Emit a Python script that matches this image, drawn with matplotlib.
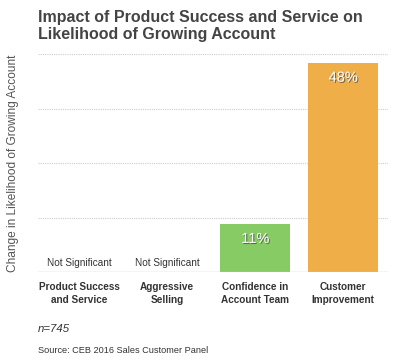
import numpy as np
import matplotlib
matplotlib.use("Agg")
import matplotlib.pyplot as plt
import matplotlib.patheffects as pe

# data
categories = ["Product Success\nand Service", "Aggressive\nSelling",
              "Confidence in\nAccount Team", "Customer\nImprovement"]
values = [0, 0, 11, 48]
significant = [False, False, True, True]
bar_colors = ["#86cb63", "#86cb63", "#86cb63", "#f0ae48"]
grid_ticks = [12.5, 25, 37.5, 50]

plt.rcParams['font.family'] = ['Liberation Sans', 'DejaVu Sans']

fig = plt.figure(figsize=(4.0, 3.61), dpi=100)
ax = fig.add_axes([0.095, 0.2465, 0.875, 0.6035])

x = np.arange(len(categories))
for i in range(len(categories)):
    if significant[i]:
        ax.bar(x[i], values[i], width=0.8, color=bar_colors[i], zorder=2)
        ax.text(x[i], values[i] - 1.8, "%d%%" % values[i], ha="center", va="top",
                color="white", fontsize=10.5, zorder=3,
                path_effects=[pe.withSimplePatchShadow(offset=(0.8, -0.8),
                                                       shadow_rgbFace="#555555", alpha=0.8)])
    else:
        ax.text(x[i], 1.0, "Not Significant", ha="center", va="bottom",
                color="#333333", fontsize=7.2)

for g in grid_ticks:
    ax.axhline(g, color="#cccccc", linestyle=(0, (1, 1)), linewidth=0.8, zorder=1)
ax.axhline(0, color="#c8c8c8", linewidth=1.0, zorder=4)

ax.set_xlim(-0.47, 3.51)
ax.set_ylim(0, 50)
for s in ax.spines.values():
    s.set_visible(False)
ax.set_yticks([])
ax.set_xticks(x)
ax.set_xticklabels(categories, fontsize=7.2, fontweight="bold", color="#333333",
                   linespacing=1.45)
ax.tick_params(axis="x", length=0, pad=7)

ax.set_ylabel("Change in Likelihood of Growing Account", fontsize=8.6,
              color="#555555", labelpad=14)

fig.text(0.095, 0.973, "Impact of Product Success and Service on\nLikelihood of Growing Account",
         ha="left", va="top", fontsize=11.5, fontweight="bold", color="#444444",
         linespacing=1.15)
fig.text(0.095, 0.088, "n=745", ha="left", va="center", fontsize=8.2,
         style="italic", color="#333333")
fig.text(0.095, 0.03, "Source: CEB 2016 Sales Customer Panel", ha="left", va="center",
         fontsize=6.6, color="#333333")

fig.savefig("out.png", dpi=100)
